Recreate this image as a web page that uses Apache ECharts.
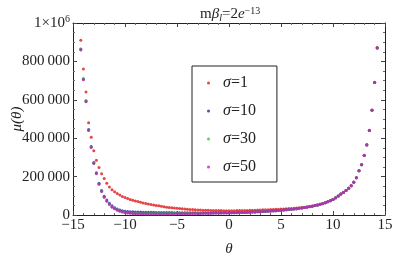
<!DOCTYPE html>
<html><head><meta charset="utf-8">
<script src="https://cdn.jsdelivr.net/npm/echarts@6/dist/echarts.min.js"></script>
<style>html,body{margin:0;padding:0;background:#fff}#c{width:420px;height:262px}</style>
</head><body><div id="c"></div>
<script>
// theta sample positions
const theta = [-14.25,-14,-13.75,-13.5,-13.25,-13,-12.75,-12.5,-12.25,-12,-11.75,-11.5,-11.25,-11,-10.75,-10.5,-10.25,-10,-9.75,-9.5,-9.25,-9,-8.75,-8.5,-8.25,-8,-7.75,-7.5,-7.25,-7,-6.75,-6.5,-6.25,-6,-5.75,-5.5,-5.25,-5,-4.75,-4.5,-4.25,-4,-3.75,-3.5,-3.25,-3,-2.75,-2.5,-2.25,-2,-1.75,-1.5,-1.25,-1,-0.75,-0.5,-0.25,0,0.25,0.5,0.75,1,1.25,1.5,1.75,2,2.25,2.5,2.75,3,3.25,3.5,3.75,4,4.25,4.5,4.75,5,5.25,5.5,5.75,6,6.25,6.5,6.75,7,7.25,7.5,7.75,8,8.25,8.5,8.75,9,9.25,9.5,9.75,10,10.25,10.5,10.75,11,11.25,11.5,11.75,12,12.25,12.5,12.75,13,13.25,13.5,13.75,14,14.25];
// mu(theta) values in thousands
const sigma1 = [910,760,640,480,405,335,285,248,215,190,166,146,132,121,112,104,97,91,86,81,77,73,70,66,63,60,57.5,55,52.5,50,48,46,43,41,39.5,38,36.5,35,34,32.5,31.2,30,29,28,27.2,26.5,25.8,25.2,24.7,24.2,23.8,23.5,23.2,23,22.8,22.6,22.5,22.5,22.5,22.6,22.8,23,23.3,23.6,24,24.4,24.8,25.2,25.7,26.2,26.7,27.2,27.8,28.4,29,29.6,30.3,31,31.7,32.5,33.3,34.2,35.2,36.3,37.5,38.8,40.5,42.3,44.5,47,49.7,52.6,56,59.5,64,69,75,81.5,89.5,99.5,109.5,117.5,127.5,139.5,152.5,171.5,194.5,231,263,311,367,442,547,692,873];
const sigma10 = [865,710,595,445,357,273,220,166,128,98,78,61,48,38,31,26,22,19.5,18,17,16.3,15.8,15.4,15,14.7,14.4,14.2,14,13.8,13.6,13.4,13.2,13,12.8,12.6,12.4,12.2,12,11.8,11.6,11.5,11.4,11.3,11.2,11.1,11,11,11,11,11,11,11.1,11.2,11.3,11.4,11.5,11.6,11.7,11.9,12.1,12.4,12.7,13.1,13.5,14,14.6,15.2,15.8,16.5,17.2,18,18.8,19.7,20.6,21.6,22.6,23.7,24.8,26,27.2,28.6,30,31.5,33.2,35,36.9,39,41.2,43.7,46.2,49.2,52.2,55.7,59.2,63.7,68.7,74.7,81.2,89.2,99.2,109.2,117.2,127.2,139.2,152.2,171.2,194.2,230.2,262.2,310.2,365.2,440.2,545.2,690.2,870.2];
const sigma30 = [862,707,592,442,354,270,217,162,124,94,74,57,43,34,27,21,17,14,12,10.5,9.5,9,8.6,8.3,8,7.8,7.6,7.5,7.4,7.3,7.3,7.3,7.3,7.4,7.5,7.6,7.7,7.9,8.1,8.3,8.5,8.7,8.9,9.1,9.3,9.5,9.7,9.9,10.1,10.3,10.5,10.7,10.8,10.9,11,11.1,11.2,11.3,11.5,11.8,12.2,12.6,13,13.5,14,14.6,15.2,15.8,16.5,17.2,18,18.8,19.7,20.6,21.6,22.6,23.7,24.8,26,27.2,28.6,30,31.5,33.2,35,36.9,39,41.2,43.7,46.2,49.2,52.2,55.7,59.2,63.7,68.7,74.7,81.2,89.2,99.2,109.2,117.2,127.2,139.2,152.2,171.2,194.2,230.2,262.2,310.2,365.2,440.2,545.2,690.2,870.2];
const sigma50 = [860,705,590,440,352,268,215,160,122,92,72,55,41,32,25,19,15,12,10,8.5,7.5,7,6.6,6.3,6,5.8,5.6,5.5,5.4,5.3,5.3,5.3,5.3,5.4,5.5,5.6,5.7,5.9,6.1,6.3,6.5,6.8,7,7.3,7.6,7.9,8.2,8.5,8.8,9.1,9.4,9.7,10,10.3,10.5,10.7,10.9,11,11.3,11.6,12,12.4,12.8,13.3,13.8,14.4,15,15.6,16.3,17,17.8,18.6,19.5,20.4,21.4,22.4,23.5,24.6,25.8,27,28.4,29.8,31.3,33,34.8,36.7,38.8,41,43.5,46,49,52,55.5,59,63.5,68.5,74.5,81,89,99,109,117,127,139,152,171,194,230,262,310,365,440,545,690,870];
const seriesNames = ['σ=1','σ=10','σ=30','σ=50'];
const seriesValues = [sigma1, sigma10, sigma30, sigma50];
const colors = ['#e01818','#2424a0','#30c830','#c818c8'];

const serif = 'Liberation Serif';
const chart = echarts.init(document.getElementById('c'), null, {renderer:'canvas'});
const tickCfg = {show:true, inside:true, length:4, lineStyle:{color:'#444', width:1}};
const minorCfg = (n)=>({show:true, splitNumber:n, length:2, lineStyle:{color:'#666', width:1}});
const lineCfg = {show:true, onZero:false, lineStyle:{color:'#222', width:1}};
chart.setOption({
  animation:false,
  backgroundColor:'#fff',
  title:{
    text:'m{it|β}{sub|l}=2{it|e}{sup|−13}',
    left:195, top:1,
    textStyle:{fontFamily:serif, fontSize:15, color:'#222', fontWeight:'normal',
      rich:{it:{fontFamily:serif, fontSize:15, fontStyle:'italic', color:'#222'},
            sub:{fontFamily:serif, fontSize:10, fontStyle:'italic', color:'#222', verticalAlign:'bottom', padding:[6,0,0,0]},
            sup:{fontFamily:serif, fontSize:10, color:'#222', verticalAlign:'top', padding:[0,0,7,0]}}}
  },
  grid:{left:73, right:35, top:23, bottom:47, containLabel:false, outerBoundsMode:'none'},
  legend:{
    orient:'vertical', left:192, top:66,
    data:seriesNames,
    itemWidth:3, itemHeight:3, itemGap:12,
    padding:[9,21,7,15],
    borderColor:'#222', borderWidth:1, backgroundColor:'#fff',
    formatter:(n)=>'{i|σ}{n|'+n.slice(1)+'}',
    textStyle:{fontFamily:serif, fontSize:16, color:'#222', lineHeight:15, padding:[0,0,0,8],
      rich:{i:{fontFamily:serif, fontSize:16, fontStyle:'italic', color:'#222', lineHeight:15},
            n:{fontFamily:serif, fontSize:16, color:'#222', lineHeight:15}}}
  },
  xAxis:[{
    type:'value', min:-15, max:15, interval:5, position:'bottom',
    axisLine:lineCfg, axisTick:tickCfg, minorTick:minorCfg(5), splitLine:{show:false},
    axisLabel:{fontFamily:serif, fontSize:15, color:'#222', margin:3,
      formatter:(v)=> v<0 ? '−'+(-v) : String(v)},
    name:'θ', nameLocation:'middle', nameGap:27,
    nameTextStyle:{fontFamily:serif, fontSize:15, fontStyle:'italic', color:'#222'}
  },{
    type:'value', min:-15, max:15, interval:5, position:'top',
    axisLine:lineCfg, axisTick:tickCfg, minorTick:minorCfg(5), splitLine:{show:false},
    axisLabel:{show:false}
  }],
  yAxis:[{
    type:'value', min:0, max:1000000, interval:200000, position:'left',
    axisLine:lineCfg, axisTick:tickCfg, minorTick:minorCfg(4), splitLine:{show:false},
    axisLabel:{fontFamily:serif, fontSize:15, color:'#222', margin:3,
      formatter:(v)=>{
        if (v===1000000) return '1×10{s|6}';
        if (v===0) return '0';
        const s=String(v); return s.slice(0,s.length-3)+'\u2009'+s.slice(-3);
      },
      rich:{s:{fontFamily:serif, fontSize:10, color:'#222', verticalAlign:'top', padding:[0,0,8,0]}}},
    name:'μ(θ)', nameLocation:'middle', nameGap:48, nameMoveOverlap:false,
    nameTextStyle:{fontFamily:serif, fontSize:15, fontStyle:'italic', color:'#222'}
  },{
    type:'value', min:0, max:1000000, interval:200000, position:'right',
    axisLine:lineCfg, axisTick:tickCfg, minorTick:minorCfg(4), splitLine:{show:false},
    axisLabel:{show:false}
  }],
  series: seriesNames.map((name,k)=>({
    name, type:'scatter', xAxisIndex:0, yAxisIndex:0,
    symbol:'circle', symbolSize:3,
    itemStyle:{color:colors[k]},
    data: theta.map((t,i)=>[t, seriesValues[k][i]*1000]),
    z: 2+k
  }))
});
</script></body></html>
